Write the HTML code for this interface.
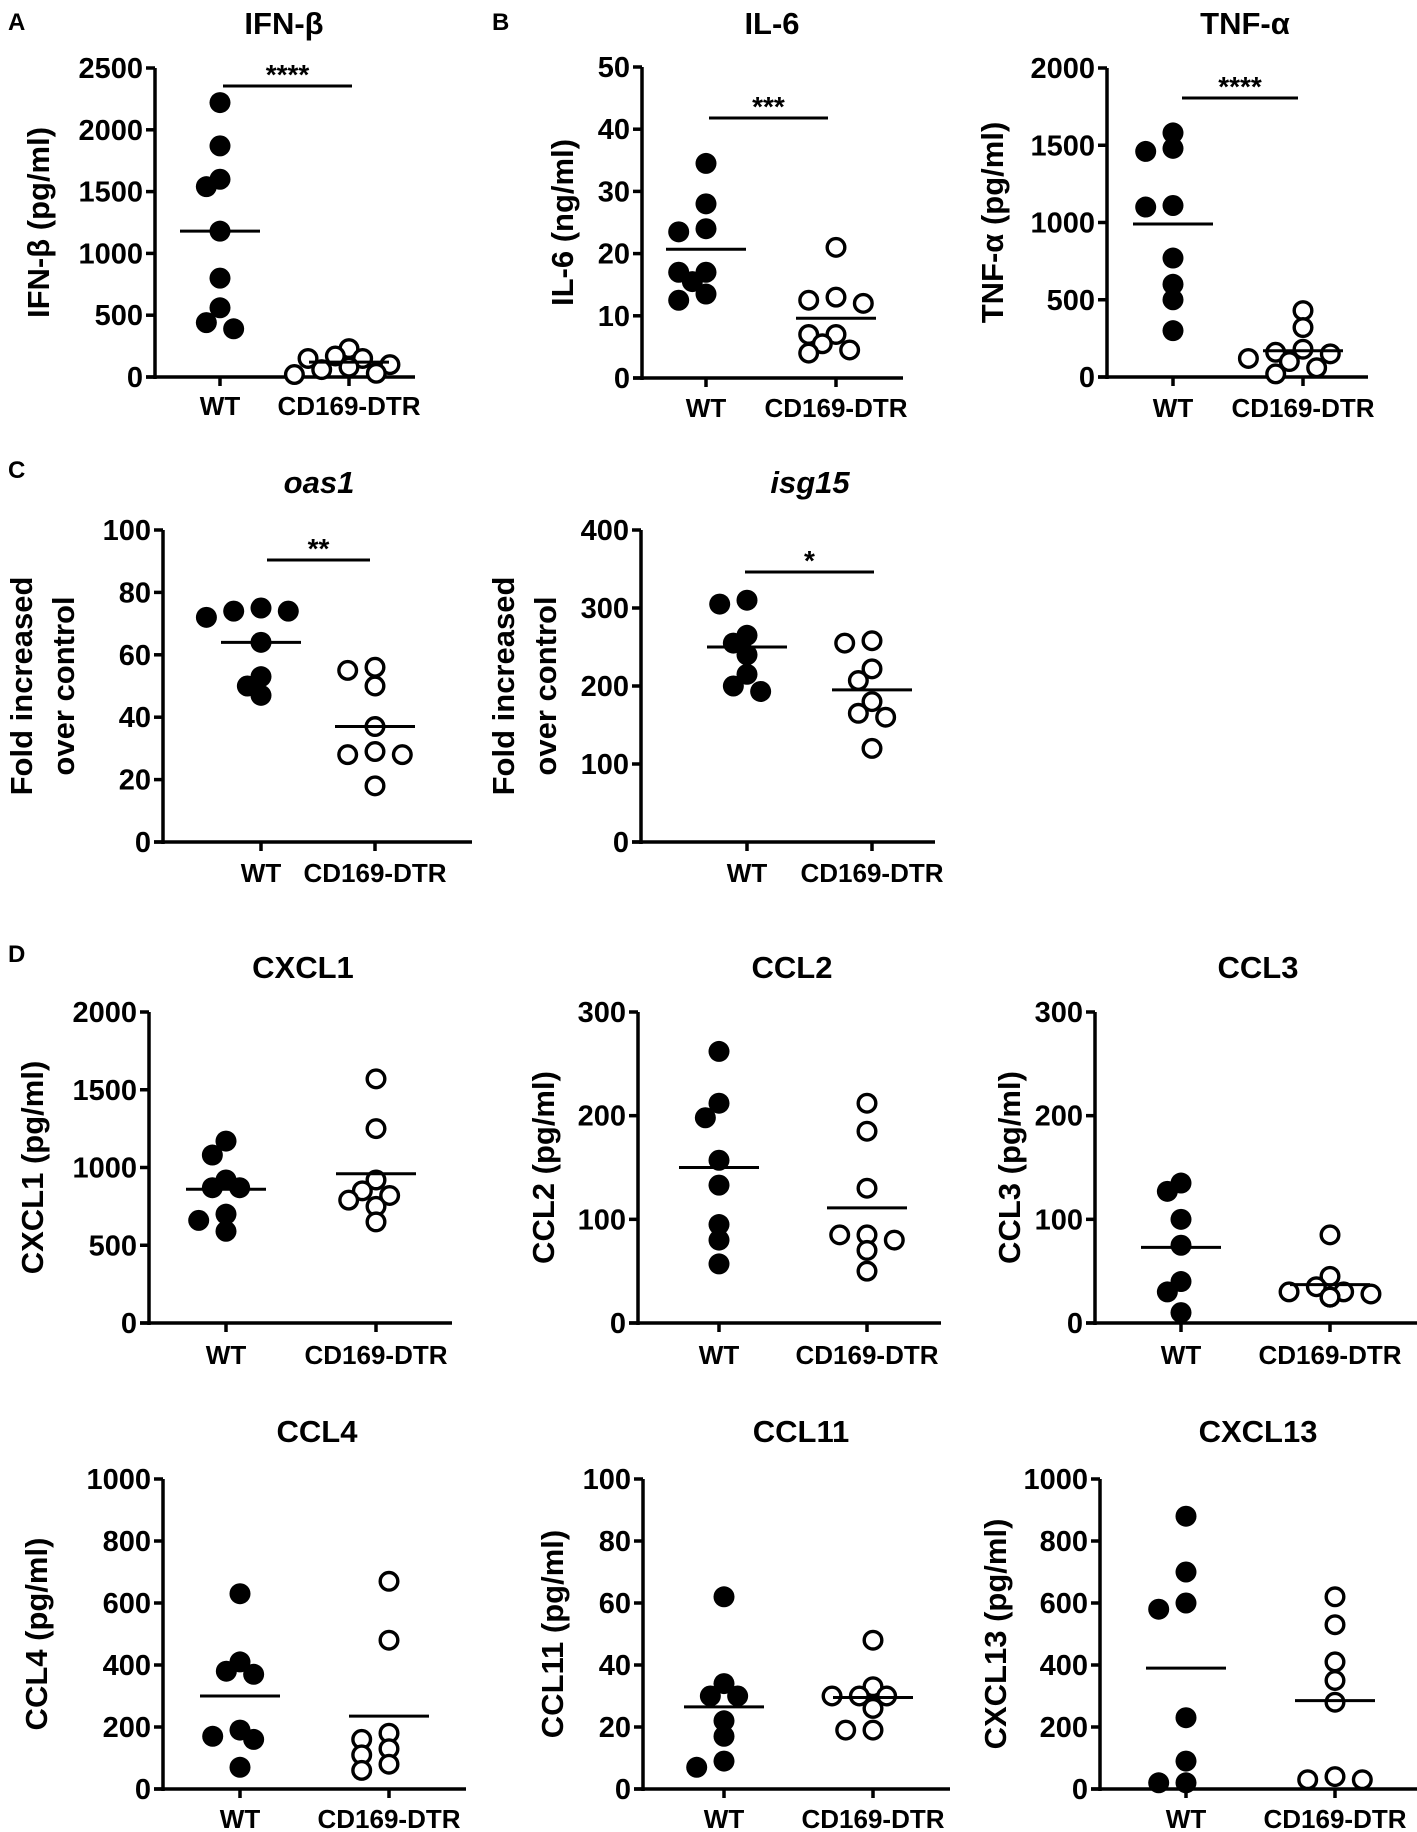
<!DOCTYPE html>
<html><head><meta charset="utf-8"><style>
html,body{margin:0;padding:0;background:#fff}
svg{display:block}
text{font-family:"Liberation Sans",Arial,sans-serif;font-weight:bold;fill:#000}
</style></head><body>
<svg id="fig" width="1417" height="1832" viewBox="0 0 1417 1832" xmlns="http://www.w3.org/2000/svg"></svg>
<script>
// ---- data ----
const groupLabels = ["WT", "CD169-DTR"];
const ifnWT = [2220, 1870, 1600, 1540, 1180, 800, 560, 390, 440];
const ifnKO = [230, 170, 150, 150, 100, 80, 60, 30, 20];
const il6WT = [34.5, 28, 24, 23.5, 17, 17, 15.5, 13.5, 12.5];
const il6KO = [21, 13, 12.5, 12, 7, 7, 5.5, 4.5, 4];
const tnfWT = [1580, 1480, 1460, 1110, 1100, 770, 600, 500, 300];
const tnfKO = [430, 320, 180, 160, 150, 120, 100, 60, 20];
const oasWT = [75, 74, 74, 72, 64, 53, 50, 47];
const oasKO = [56, 55, 50, 37, 29, 28, 28, 18];
const isgWT = [310, 305, 265, 255, 240, 215, 200, 193];
const isgKO = [258, 255, 222, 207, 180, 165, 160, 120];
const cxcl1WT = [1170, 1080, 920, 870, 870, 700, 660, 590];
const cxcl1KO = [1570, 1250, 920, 850, 820, 790, 750, 650];
const ccl2WT = [262, 212, 198, 157, 133, 95, 80, 57];
const ccl2KO = [212, 185, 130, 85, 85, 80, 70, 50];
const ccl3WT = [135, 127, 100, 75, 40, 30, 10];
const ccl3KO = [85, 45, 35, 30, 28, 25, 25, 25, 30];
const ccl4WT = [630, 410, 370, 380, 190, 160, 170, 70];
const ccl4KO = [670, 480, 180, 160, 130, 110, 80, 60];
const ccl11WT = [62, 34, 30, 30, 22, 17, 9, 7];
const ccl11KO = [48, 33, 30, 30, 30, 26, 19, 19];
const cxcl13WT = [880, 700, 600, 580, 230, 90, 20, 20];
const cxcl13KO = [620, 530, 410, 350, 280, 40, 30, 30];
const meansWT = [1180, 20.7, 990, 64, 250, 860, 150, 73, 300, 26.5, 390];
const meansKO = [120, 9.6, 170, 37, 195, 960, 111, 37, 235, 29.5, 285];

const NS = "http://www.w3.org/2000/svg";
const svg = document.getElementById("fig");
function el(tag, attrs, parent, txt) {
  const e = document.createElementNS(NS, tag);
  for (const k in attrs) e.setAttribute(k, attrs[k]);
  if (txt !== undefined) e.textContent = txt;
  (parent || svg).appendChild(e);
  return e;
}

function panel(cfg) {
  const g = el("g", {});
  
  
  const y = v => cfg.y0 - (v / cfg.max) * (cfg.y0 - cfg.y1);
  const t = el("text", {x: cfg.tx, y: cfg.ty, "font-size": 31, "text-anchor": "middle", "font-style": cfg.italic ? "italic" : "normal"}, g, cfg.title);
  
  
  const ya = el("line", {x1: cfg.ax, y1: cfg.y1, x2: cfg.ax, y2: cfg.y0 + 2, stroke: "#000", "stroke-width": 3.5}, g);
  
  
  const xa = el("line", {x1: cfg.ax - 9, y1: cfg.y0, x2: cfg.axEnd, y2: cfg.y0, stroke: "#000", "stroke-width": 3.5}, g);
  
  
  for (let i = 0; i <= cfg.nt; i++) {
    const v = cfg.max * i / cfg.nt;
    el("line", {x1: cfg.ax - 9, y1: y(v), x2: cfg.ax, y2: y(v), stroke: "#000", "stroke-width": 3.5}, g);
    const tl = el("text", {x: cfg.ax - 12, y: y(v) + 10, "font-size": 29, "text-anchor": "end"}, g, String(Math.round(v)));
    
    
  }
  cfg.ylab.forEach((s, i) => {
    const yt = el("text", {x: 0, y: 0, "font-size": 31, "text-anchor": "middle", transform: `translate(${cfg.ylx[i] + 11},${(cfg.y0 + cfg.y1) / 2}) rotate(-90)`}, g, s);
    
    
  });
  const xs = [cfg.wx, cfg.kx];
  xs.forEach((x, i) => {
    el("line", {x1: x, y1: cfg.y0, x2: x, y2: cfg.y0 + 9, stroke: "#000", "stroke-width": 3.5}, g);
    const xl = el("text", {x: x, y: cfg.xly, "font-size": 26, "text-anchor": "middle"}, g, groupLabels[i]);
    
    
  });
  const r = 10.5;
  [cfg.wt, cfg.ko].forEach((vals, gi) => {
    const cx = xs[gi];
    const order = vals.map((v, i) => i).sort((a, b) => vals[b] - vals[a]);
    const placed = [];
    const step = r * 1.3;
    order.forEach(i => {
      const py = y(vals[i]);
      const cands = [0, -1, 1, -2, 2, -3, 3, -4, 4];
      let px = cx;
      for (const c of cands) {
        const tx = cx + c * step;
        if (placed.every(p => Math.hypot(p[0] - tx, p[1] - py) >= 2 * r * 0.72)) { px = tx; break; }
      }
      placed.push([px, py]);
      const c = el("circle", {cx: px, cy: py, r: gi ? r - 1.7 : r, fill: gi ? "#fff" : "#000", stroke: "#000", "stroke-width": gi ? 3.4 : 0}, g);
      
      
    });
    const m = gi ? cfg.mk : cfg.mw;
    const ml = el("line", {x1: cx - 40, y1: y(m), x2: cx + 40, y2: y(m), stroke: "#000", "stroke-width": 3}, g);
    
    
  });
  if (cfg.sig) {
    const s = cfg.sig;
    const sb = el("line", {x1: s[0], y1: s[2], x2: s[1], y2: s[2], stroke: "#000", "stroke-width": 3}, g);
    
    
    const st = el("text", {x: (s[0] + s[1]) / 2, y: s[2] - 2, "font-size": 28, "text-anchor": "middle", "font-weight": "normal"}, g, s[3]);
    
    
  }
}

[["A", 8, 30], ["B", 492, 30], ["C", 8, 478], ["D", 8, 962]].forEach(p => {
  const l = el("text", {x: p[1], y: p[2], "font-size": 24}, svg, p[0]);
  
  
});

panel({name: "ifn-beta", title: "IFN-β", tx: 284, ty: 34, ax: 155, axEnd: 415, y0: 377, y1: 68, max: 2500, nt: 5, ylab: ["IFN-β (pg/ml)"], ylx: [38], wx: 220, kx: 349, xly: 415, wt: ifnWT, ko: ifnKO, mw: meansWT[0], mk: meansKO[0], sig: [223, 352, 86, "****"]});
panel({name: "il-6", title: "IL-6", tx: 772, ty: 34, ax: 642, axEnd: 903, y0: 378, y1: 67, max: 50, nt: 5, ylab: ["IL-6 (ng/ml)"], ylx: [562], wx: 706, kx: 836, xly: 417, wt: il6WT, ko: il6KO, mw: meansWT[1], mk: meansKO[1], sig: [709, 828, 118, "***"]});
panel({name: "tnf-alpha", title: "TNF-α", tx: 1245, ty: 34, ax: 1107, axEnd: 1368, y0: 377, y1: 68, max: 2000, nt: 4, ylab: ["TNF-α (pg/ml)"], ylx: [992], wx: 1173, kx: 1303, xly: 417, wt: tnfWT, ko: tnfKO, mw: meansWT[2], mk: meansKO[2], sig: [1182, 1298, 98, "****"]});
panel({name: "oas1", title: "oas1", italic: true, tx: 319, ty: 493, ax: 163, axEnd: 472, y0: 842, y1: 530, max: 100, nt: 5, ylab: ["Fold increased", "over control"], ylx: [21, 63], wx: 261, kx: 375, xly: 882, wt: oasWT, ko: oasKO, mw: meansWT[3], mk: meansKO[3], sig: [267, 370, 560, "**"]});
panel({name: "isg15", title: "isg15", italic: true, tx: 810, ty: 493, ax: 641, axEnd: 935, y0: 842, y1: 530, max: 400, nt: 4, ylab: ["Fold increased", "over control"], ylx: [503, 545], wx: 747, kx: 872, xly: 882, wt: isgWT, ko: isgKO, mw: meansWT[4], mk: meansKO[4], sig: [745, 874, 572, "*"]});
panel({name: "cxcl1", title: "CXCL1", tx: 303, ty: 978, ax: 149, axEnd: 452, y0: 1323, y1: 1012, max: 2000, nt: 4, ylab: ["CXCL1 (pg/ml)"], ylx: [32], wx: 226, kx: 376, xly: 1364, wt: cxcl1WT, ko: cxcl1KO, mw: meansWT[5], mk: meansKO[5]});
panel({name: "ccl2", title: "CCL2", tx: 792, ty: 978, ax: 638, axEnd: 941, y0: 1323, y1: 1012, max: 300, nt: 3, ylab: ["CCL2 (pg/ml)"], ylx: [543], wx: 719, kx: 867, xly: 1364, wt: ccl2WT, ko: ccl2KO, mw: meansWT[6], mk: meansKO[6]});
panel({name: "ccl3", title: "CCL3", tx: 1258, ty: 978, ax: 1095, axEnd: 1417, y0: 1323, y1: 1012, max: 300, nt: 3, ylab: ["CCL3 (pg/ml)"], ylx: [1009], wx: 1181, kx: 1330, xly: 1364, wt: ccl3WT, ko: ccl3KO, mw: meansWT[7], mk: meansKO[7]});
panel({name: "ccl4", title: "CCL4", tx: 317, ty: 1442, ax: 163, axEnd: 466, y0: 1789, y1: 1479, max: 1000, nt: 5, ylab: ["CCL4 (pg/ml)"], ylx: [36], wx: 240, kx: 389, xly: 1828, wt: ccl4WT, ko: ccl4KO, mw: meansWT[8], mk: meansKO[8]});
panel({name: "ccl11", title: "CCL11", tx: 801, ty: 1442, ax: 643, axEnd: 950, y0: 1789, y1: 1479, max: 100, nt: 5, ylab: ["CCL11 (pg/ml)"], ylx: [552], wx: 724, kx: 873, xly: 1828, wt: ccl11WT, ko: ccl11KO, mw: meansWT[9], mk: meansKO[9]});
panel({name: "cxcl13", title: "CXCL13", tx: 1258, ty: 1442, ax: 1100, axEnd: 1417, y0: 1789, y1: 1479, max: 1000, nt: 5, ylab: ["CXCL13 (pg/ml)"], ylx: [995], wx: 1186, kx: 1335, xly: 1828, wt: cxcl13WT, ko: cxcl13KO, mw: meansWT[10], mk: meansKO[10]});
</script>
</body></html>
